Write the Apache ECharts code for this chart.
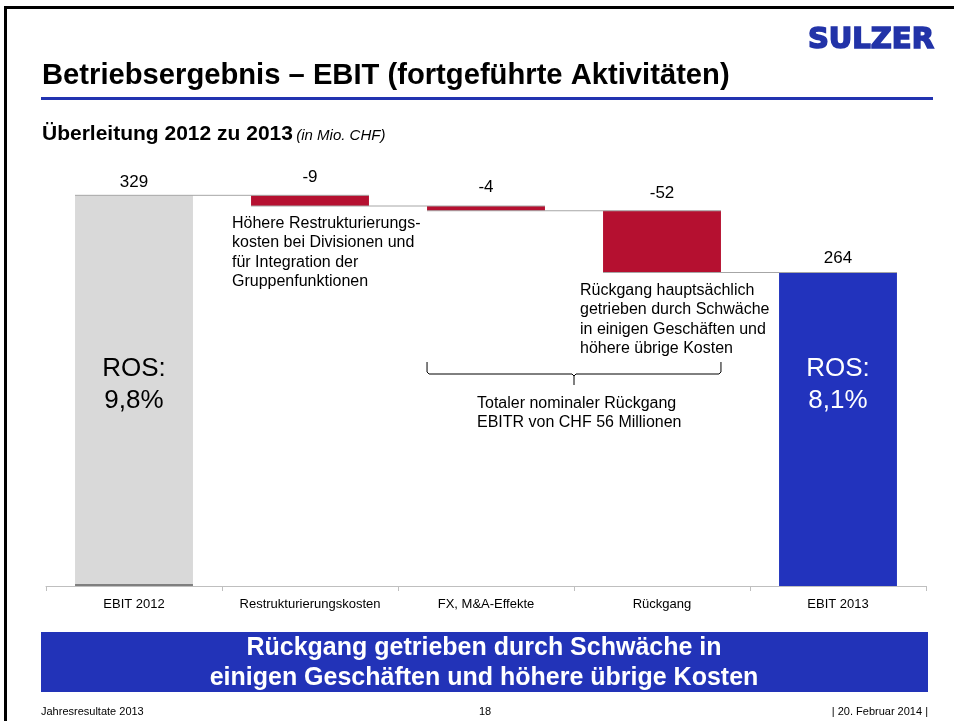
<!DOCTYPE html>
<html>
<head>
<meta charset="utf-8">
<title>Betriebsergebnis – EBIT</title>
<script src="https://cdn.jsdelivr.net/npm/echarts@6/dist/echarts.min.js"></script>
<style>
    html, body { margin: 0; padding: 0; background: #fff; }
    #ebitChart { width: 954px; height: 721px; }
</style>
</head>
<body>
<div id="ebitChart"></div>
<script>
// 数据
const categories = ['EBIT 2012', 'Restrukturierungskosten', 'FX, M&A-Effekte', 'Rückgang', 'EBIT 2013'];
const ebit2012 = 329;
const changes = [-9, -4, -52];
const ebit2013 = 264;
const rosLabels = ['ROS:\n9,8%', 'ROS:\n8,1%'];

const FONT = '"Liberation Sans", Arial, sans-serif';
const barColors = ['#d9d9d9', '#b51030', '#b51030', '#b51030', '#2233bd'];
const labelDistance = [5, 10, 10, 9, 6];

// 瀑布图: 透明底座 + 可见柱子
let baseData = [0];
let barData = [ebit2012];
let labelData = [ebit2012];
let levels = [ebit2012];
let running = ebit2012;
changes.forEach(c => {
    running += c;
    baseData.push(running);
    barData.push(-c);
    labelData.push(c);
    levels.push(running);
});
baseData.push(0);
barData.push(ebit2013);
labelData.push(ebit2013);

// 连接线: 第 i 根柱子 -> 第 i+1 根柱子
let connectorData = levels.map((v, i) => [i, v]);

var myChart = echarts.init(document.getElementById('ebitChart'));

var option = {
    animation: false,
    backgroundColor: '#fff',
    textStyle: { fontFamily: FONT },
    grid: {
        left: 46,
        right: 28,
        top: 111,
        bottom: 135,
        outerBoundsMode: 'none'
    },
    xAxis: {
        type: 'category',
        data: categories,
        axisLine: { lineStyle: { color: '#bfbfbf', width: 1 } },
        axisTick: { show: true, length: 5, lineStyle: { color: '#bfbfbf' } },
        axisLabel: {
            interval: 0,
            color: '#000',
            fontSize: 13,
            fontFamily: FONT,
            margin: 12
        },
        splitLine: { show: false }
    },
    yAxis: {
        type: 'value',
        min: 0,
        max: 400,
        show: false,
        splitLine: { show: false }
    },
    series: [
        {
            name: 'base',
            type: 'bar',
            stack: 'w',
            barWidth: '67%',
            itemStyle: { color: 'transparent' },
            data: baseData,
            silent: true
        },
        {
            name: 'EBIT',
            type: 'bar',
            stack: 'w',
            barWidth: '67%',
            z: 2,
            data: barData.map((v, i) => ({
                value: v,
                itemStyle: { color: barColors[i] },
                label: { distance: labelDistance[i] }
            })),
            label: {
                show: true,
                position: 'top',
                color: '#000',
                fontSize: 17,
                fontFamily: FONT,
                formatter: p => String(labelData[p.dataIndex])
            }
        },
        {
            name: 'connector',
            type: 'custom',
            z: 3,
            data: connectorData,
            renderItem: function (params, api) {
                let i = api.value(0);
                let level = api.value(1);
                let half = api.size([1, 0])[0] * 0.335;
                let a = api.coord([i, level]);
                let b = api.coord([i + 1, level]);
                return {
                    type: 'line',
                    shape: { x1: a[0] - half, y1: a[1], x2: b[0] + half, y2: b[1] },
                    style: { stroke: '#a6a6a6', lineWidth: 1 }
                };
            }
        },
        {
            name: 'baseEdge',
            type: 'custom',
            z: 3,
            data: [[0, 0]],
            renderItem: function (params, api) {
                let half = api.size([1, 0])[0] * 0.335;
                let a = api.coord([api.value(0), api.value(1)]);
                return {
                    type: 'line',
                    shape: { x1: a[0] - half, y1: a[1] - 1, x2: a[0] + half, y2: a[1] - 1 },
                    style: { stroke: '#7f7f7f', lineWidth: 2 }
                };
            }
        }
    ]
};

myChart.setOption(option);

// 花括号位置从坐标轴换算
let x0 = myChart.convertToPixel({ xAxisIndex: 0 }, categories[0]);
let x1 = myChart.convertToPixel({ xAxisIndex: 0 }, categories[1]);
let halfBar = (x1 - x0) * 0.335;
let braceL = myChart.convertToPixel({ xAxisIndex: 0 }, categories[2]) - halfBar;
let braceR = myChart.convertToPixel({ xAxisIndex: 0 }, categories[3]) + halfBar;
let braceM = Math.round((braceL + braceR) / 2);
let rosX = [x0, myChart.convertToPixel({ xAxisIndex: 0 }, categories[4])];

function txt(x, y, text, size, opts) {
    return {
        type: 'text',
        z: 10,
        style: Object.assign({
            x: x,
            y: y,
            text: text,
            fontFamily: FONT,
            fontSize: size,
            fill: '#000',
            textAlign: 'left',
            textVerticalAlign: 'top'
        }, opts || {})
    };
}

myChart.setOption({
    graphic: [
        // 边框
        { type: 'rect', shape: { x: 4, y: 6, width: 950, height: 3 }, style: { fill: '#000' } },
        { type: 'rect', shape: { x: 4, y: 6, width: 3, height: 715 }, style: { fill: '#000' } },
        // Logo
        txt(934, 40, 'SULZER', 29, {
            fontFamily: '"DejaVu Sans", sans-serif', fontWeight: 'bold',
            fill: '#2233a8', stroke: '#2233a8', lineWidth: 1.6,
            textAlign: 'right', textVerticalAlign: 'middle'
        }),
        // 标题
        txt(42, 76, 'Betriebsergebnis – EBIT (fortgeführte Aktivitäten)', 29.2, {
            fontWeight: 'bold', textVerticalAlign: 'middle'
        }),
        { type: 'rect', shape: { x: 41, y: 97, width: 892, height: 3 }, style: { fill: '#2233b0' } },
        // 副标题
        {
            type: 'text',
            style: {
                x: 42, y: 134,
                text: '{b|Überleitung 2012 zu 2013} {i|(in Mio. CHF)}',
                textVerticalAlign: 'middle',
                fill: '#000',
                rich: {
                    b: { fontFamily: FONT, fontSize: 21, fontWeight: 'bold', fill: '#000', verticalAlign: 'bottom' },
                    i: { fontFamily: FONT, fontSize: 15, fontStyle: 'italic', fill: '#000', verticalAlign: 'bottom', padding: [0, 0, 1, 0] }
                }
            }
        },
        // 注释
        txt(232, 213.5, 'Höhere Restrukturierungs-\nkosten bei Divisionen und\nfür Integration der\nGruppenfunktionen', 16, { lineHeight: 19.5 }),
        txt(580, 281, 'Rückgang hauptsächlich\ngetrieben durch Schwäche\nin einigen Geschäften und\nhöhere übrige Kosten', 16, { lineHeight: 19.3 }),
        txt(477, 393.5, 'Totaler nominaler Rückgang\nEBITR von CHF 56 Millionen', 16, { lineHeight: 19.3 }),
        // 花括号
        {
            type: 'polyline', z: 10,
            shape: { points: [[braceL, 362], [braceL, 372], [braceL + 2, 374], [braceM - 2, 374], [braceM, 376], [braceM, 385]] },
            style: { stroke: '#000', lineWidth: 1, fill: null }
        },
        {
            type: 'polyline', z: 10,
            shape: { points: [[braceM, 376], [braceM + 2, 374], [braceR - 2, 374], [braceR, 372], [braceR, 362]] },
            style: { stroke: '#000', lineWidth: 1, fill: null }
        },
        // ROS
        txt(rosX[0], 353.5, rosLabels[0], 26, { textAlign: 'center', lineHeight: 31.5 }),
        txt(rosX[1], 353.5, rosLabels[1], 26, { textAlign: 'center', lineHeight: 31.5, fill: '#fff' }),
        // 底部横幅
        { type: 'rect', shape: { x: 41, y: 632, width: 887, height: 60 }, style: { fill: '#2233b8' } },
        txt(484, 633.5, 'Rückgang getrieben durch Schwäche in\neinigen Geschäften und höhere übrige Kosten', 25, {
            fontWeight: 'bold', fill: '#fff', textAlign: 'center', lineHeight: 30
        }),
        // 页脚
        txt(41, 712, 'Jahresresultate 2013', 11, { textVerticalAlign: 'middle' }),
        txt(485, 712, '18', 11, { textAlign: 'center', textVerticalAlign: 'middle' }),
        txt(928, 712, '| 20. Februar 2014 |', 11, { textAlign: 'right', textVerticalAlign: 'middle' })
    ]
});
</script>
</body>
</html>
